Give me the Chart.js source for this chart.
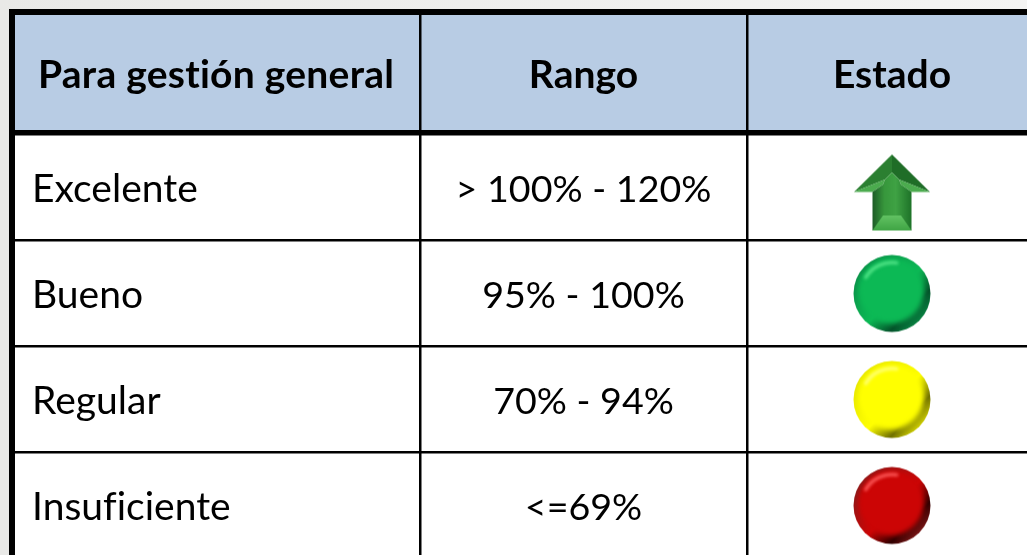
<!DOCTYPE html>
<html>
<head>
<meta charset="utf-8">
<title>Para gestión general</title>
<script src="https://cdn.jsdelivr.net/npm/chart.js@4"></script>
<style>
    html, body { margin: 0; padding: 0; width: 1027px; height: 555px; overflow: hidden; background: #e9e9e7; }
    #wrap { position: relative; width: 1027px; height: 555px; }
</style>
</head>
<body>
<div id="wrap"><canvas id="tabla"></canvas></div>
<script>
// datos de la tabla
const headers = ['Para gestión general', 'Rango', 'Estado'];
const levels = ['Excelente', 'Bueno', 'Regular', 'Insuficiente'];
const ranges = ['> 100% - 120%', '95% - 100%', '70% - 94%', '<=69%'];
const states = ['arrow', 'green', 'yellow', 'red'];

// escala x: unidades = px de la tabla; escala y: unidades = filas
const columnEdges = [15, 420, 747, 1037];
const rowPitch = 106;
const firstRowCenter = 187.5;
const headerEdge = -0.515;
const rowEdges = [headerEdge, 0.5, 1.5, 2.5];

const FONT = 'Lato, "Open Sans", sans-serif';

const discColors = {
    green: {base: '#0cb955', light: '#4fe386', dark: '#04522a', low: '#0a8f48'},
    yellow: {base: '#ffff00', light: '#ffff70', dark: '#6f6f00', low: '#e6e600'},
    red: {base: '#cc0505', light: '#fb5555', dark: '#300000', low: '#8a1a1a'}
};

// icono circular con relieve
function makeDisc(c) {
    const size = 80, m = 40, my = 40.5, r = 38.5;
    const cv = document.createElement('canvas');
    cv.width = size;
    cv.height = size + 2;
    const g = cv.getContext('2d');

    g.save();
    g.beginPath();
    g.arc(m, my + 0.5, r, 0, Math.PI * 2);
    g.clip();

    const rim = g.createLinearGradient(m - 28, my - 22, m + 28, my + 32);
    rim.addColorStop(0, c.low);
    rim.addColorStop(0.5, c.base);
    rim.addColorStop(0.78, c.dark);
    rim.addColorStop(1, c.low);
    g.fillStyle = rim;
    g.fillRect(0, 0, size, size + 2);

    g.filter = 'blur(2.5px)';
    g.fillStyle = c.base;
    g.beginPath();
    g.arc(m - 1, my - 2.5, r - 5.5, 0, Math.PI * 2);
    g.fill();

    g.filter = 'blur(1.5px)';
    g.strokeStyle = c.light;
    g.lineWidth = 3.5;
    g.lineCap = 'round';
    g.beginPath();
    g.arc(m, my, r - 8, Math.PI * 1.17, Math.PI * 1.55);
    g.stroke();
    g.restore();
    return cv;
}

function poly(g, pts, fill) {
    g.fillStyle = fill;
    g.beginPath();
    pts.forEach((p, i) => i ? g.lineTo(p[0], p[1]) : g.moveTo(p[0], p[1]));
    g.closePath();
    g.fill();
}

// flecha verde: el centro del lienzo cae en el centro de la fila
function makeArrow() {
    const cv = document.createElement('canvas');
    cv.width = 80;
    cv.height = 90;
    const g = cv.getContext('2d');
    const cx = 40, tip = 12, wing = 49.5, bottom = 88;

    const T = [cx, tip], L = [cx - 38, wing], R = [cx + 38, wing];
    const SL = [cx - 19.5, wing], SR = [cx + 19.5, wing];
    const BL = [cx - 19.5, bottom], BR = [cx + 19.5, bottom];
    const IL = [cx - 9, 73], IR = [cx + 9, 73];
    const HL = [cx - 7, 37], HR = [cx + 7, 37], HM = [cx, 30];

    poly(g, [T, L, HL, HM], '#2b7f31');
    poly(g, [T, HM, HR, R], '#1f6d27');
    poly(g, [L, HL, [cx - 9, 42], SL], '#4bab4e');
    poly(g, [R, HR, [cx + 9, 42], SR], '#4bab4e');

    const shaft = g.createLinearGradient(cx - 19, 0, cx + 19, 0);
    shaft.addColorStop(0, '#1f5f28');
    shaft.addColorStop(0.3, '#37973c');
    shaft.addColorStop(0.6, '#3fa244');
    shaft.addColorStop(1, '#1f7429');
    poly(g, [HL, HM, HR, [cx + 9, 42], SR, BR, BL, SL, [cx - 9, 42]], shaft);

    const foot = g.createLinearGradient(0, 73, 0, bottom);
    foot.addColorStop(0, '#62c263');
    foot.addColorStop(1, '#3fa444');
    poly(g, [IL, IR, BR, BL], foot);
    return cv;
}

const icons = {
    arrow: makeArrow(),
    green: makeDisc(discColors.green),
    yellow: makeDisc(discColors.yellow),
    red: makeDisc(discColors.red)
};

const midColumn = i => (columnEdges[i] + columnEdges[i + 1]) / 2;

// fondo, cabecera, bordes gruesos y textos
const tablePlugin = {
    id: 'tablePlugin',
    beforeDatasetsDraw(chart) {
        const {ctx, chartArea} = chart;
        ctx.save();
        ctx.fillStyle = '#000';
        ctx.fillRect(9, 9, chart.width - 9, chartArea.top - 9);
        ctx.fillRect(9, 9, chartArea.left - 9, chart.height - 9);
        ctx.restore();
    },
    beforeDraw(chart) {
        const {ctx, chartArea, scales: {y}} = chart;
        const grad = ctx.createLinearGradient(0, 0, chart.width, 0);
        grad.addColorStop(0, '#e9e9e7');
        grad.addColorStop(1, '#f4f4f3');
        ctx.save();
        ctx.fillStyle = grad;
        ctx.fillRect(0, 0, chart.width, chart.height);
        ctx.fillStyle = '#fff';
        ctx.fillRect(chartArea.left, chartArea.top, chartArea.width, chartArea.height);
        ctx.fillStyle = '#b8cce4';
        ctx.fillRect(chartArea.left, chartArea.top, chartArea.width, y.getPixelForValue(headerEdge) - chartArea.top);
        ctx.restore();
    },
    afterDraw(chart) {
        const {ctx, scales: {x, y}} = chart;
        ctx.save();
        ctx.fillStyle = '#000';
        ctx.textBaseline = 'alphabetic';
        ctx.letterSpacing = '0.01px';

        ctx.font = 'bold 39px ' + FONT;
        ctx.textAlign = 'center';
        headers.forEach((h, i) => {
            if (i === 0) {
                ctx.save();
                ctx.textAlign = 'left';
                ctx.letterSpacing = '0.26px';
                ctx.fillText(h, x.getPixelForValue(columnEdges[0] + 23), 88);
                ctx.restore();
            } else {
                ctx.fillText(h, x.getPixelForValue(midColumn(i)), 88);
            }
        });

        levels.forEach((t, i) => {
            const py = y.getPixelForValue(i) + 14;
            ctx.font = '39px ' + FONT;
            ctx.textAlign = 'left';
            ctx.fillText(t, x.getPixelForValue(columnEdges[0] + 17), py);
            ctx.font = '37.6px ' + FONT;
            ctx.textAlign = 'center';
            ctx.fillText(ranges[i], x.getPixelForValue(midColumn(1)), py);
        });
        ctx.restore();
    }
};

new Chart(document.getElementById('tabla'), {
    type: 'scatter',
    data: {
        datasets: [{
            label: headers[2],
            data: states.map((s, i) => ({x: midColumn(2), y: i})),
            pointStyle: states.map(s => icons[s]),
            pointRadius: 40
        }]
    },
    options: {
        responsive: true,
        maintainAspectRatio: false,
        animation: false,
        events: [],
        layout: {autoPadding: false, padding: {left: 15, top: 15, right: 0, bottom: 0}},
        plugins: {legend: {display: false}, tooltip: {enabled: false}},
        scales: {
            x: {
                type: 'linear',
                min: 15,
                max: 1027,
                ticks: {display: false},
                border: {display: false},
                afterFit(s) { s.height = 0; },
                afterBuildTicks(s) { s.ticks = columnEdges.slice(1, 3).map(v => ({value: v})); },
                grid: {color: '#000', lineWidth: 2.5, drawTicks: false}
            },
            y: {
                type: 'linear',
                reverse: true,
                min: (15 - firstRowCenter) / rowPitch,
                max: (555 - firstRowCenter) / rowPitch,
                ticks: {display: false},
                border: {display: false},
                afterFit(s) { s.width = 0; },
                afterBuildTicks(s) { s.ticks = rowEdges.map(v => ({value: v})); },
                grid: {
                    color: '#000',
                    drawTicks: false,
                    lineWidth: c => c.tick && c.tick.value === headerEdge ? 5.5 : 2.5
                }
            }
        }
    },
    plugins: [tablePlugin]
});
</script>
</body>
</html>
